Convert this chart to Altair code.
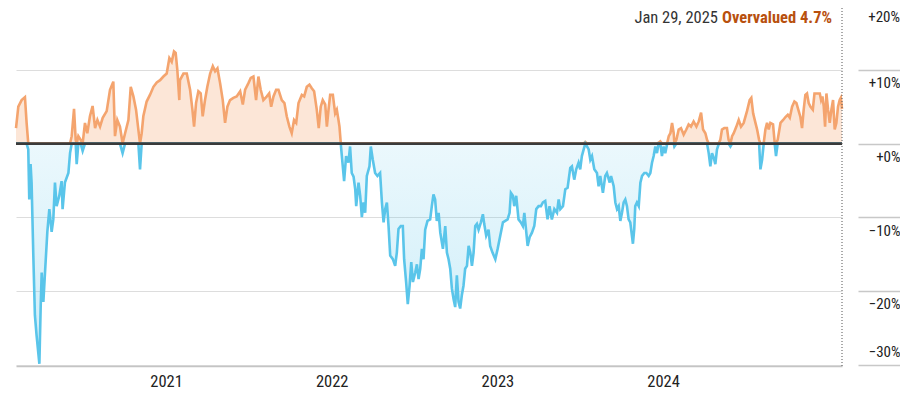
import altair as alt
import pandas as pd

# ---- data (decimal year, % over/under fair value) ----
years = [
    2020.095, 2020.109, 2020.129, 2020.149, 2020.159, 2020.169, 2020.175, 2020.183, 2020.189, 2020.199,
    2020.209, 2020.219, 2020.236, 2020.244, 2020.250, 2020.260, 2020.270, 2020.284, 2020.296, 2020.310,
    2020.320, 2020.330, 2020.340, 2020.356, 2020.370, 2020.376, 2020.390, 2020.411, 2020.421, 2020.431,
    2020.445, 2020.455, 2020.461, 2020.471, 2020.485, 2020.497, 2020.511, 2020.525, 2020.541, 2020.557,
    2020.572, 2020.586, 2020.602, 2020.618, 2020.642, 2020.662, 2020.682, 2020.692, 2020.706, 2020.722,
    2020.738, 2020.753, 2020.773, 2020.787, 2020.803, 2020.819, 2020.833, 2020.843, 2020.853, 2020.863,
    2020.883, 2020.903, 2020.924, 2020.944, 2020.964, 2020.984, 2021.004, 2021.020, 2021.034, 2021.048,
    2021.058, 2021.068, 2021.080,
    2021.084, 2021.105, 2021.125, 2021.145, 2021.159, 2021.169, 2021.181, 2021.195, 2021.209, 2021.221,
    2021.235, 2021.249, 2021.266, 2021.282, 2021.296, 2021.310, 2021.326, 2021.342, 2021.356, 2021.370,
    2021.386, 2021.406, 2021.426, 2021.447, 2021.463, 2021.477, 2021.497, 2021.511, 2021.527, 2021.543,
    2021.557, 2021.571, 2021.587, 2021.608, 2021.622, 2021.634, 2021.648, 2021.664, 2021.678, 2021.698,
    2021.714, 2021.728, 2021.744, 2021.758, 2021.772, 2021.785, 2021.799, 2021.819, 2021.833, 2021.849,
    2021.865, 2021.879, 2021.893, 2021.909, 2021.921, 2021.933, 2021.945, 2021.960, 2021.970, 2021.980,
    2021.990, 2022.006, 2022.020, 2022.030, 2022.040,
    2022.046, 2022.054, 2022.066, 2022.074, 2022.086, 2022.100, 2022.110, 2022.120, 2022.131, 2022.141,
    2022.147, 2022.161, 2022.171, 2022.181, 2022.191, 2022.201, 2022.211, 2022.227, 2022.235, 2022.247,
    2022.261, 2022.275, 2022.291, 2022.302, 2022.312, 2022.322, 2022.332, 2022.342, 2022.352, 2022.368,
    2022.382, 2022.392, 2022.402, 2022.416, 2022.428, 2022.436, 2022.448, 2022.458, 2022.469, 2022.479,
    2022.489, 2022.503, 2022.513, 2022.523, 2022.533, 2022.543, 2022.553, 2022.563, 2022.577, 2022.593,
    2022.603, 2022.613, 2022.623, 2022.633, 2022.644, 2022.654, 2022.670, 2022.684, 2022.694, 2022.704,
    2022.714, 2022.724, 2022.734, 2022.744, 2022.754, 2022.764, 2022.774, 2022.784, 2022.794, 2022.804,
    2022.815, 2022.825, 2022.835, 2022.845, 2022.855, 2022.865, 2022.875, 2022.885, 2022.899, 2022.911,
    2022.919, 2022.931, 2022.945, 2022.955, 2022.969, 2022.986, 2023.000, 2023.016,
    2023.032, 2023.046, 2023.060, 2023.072, 2023.080, 2023.092, 2023.100, 2023.112, 2023.126, 2023.140,
    2023.152, 2023.161, 2023.173, 2023.181, 2023.193, 2023.207, 2023.221, 2023.233, 2023.247, 2023.261,
    2023.273, 2023.287, 2023.301, 2023.313, 2023.327, 2023.342, 2023.358, 2023.368, 2023.378, 2023.394,
    2023.408, 2023.422, 2023.438, 2023.448, 2023.462, 2023.474, 2023.488, 2023.498, 2023.508, 2023.519,
    2023.529, 2023.539, 2023.549, 2023.559, 2023.569, 2023.583, 2023.599, 2023.609, 2023.619, 2023.635,
    2023.649, 2023.659, 2023.676, 2023.684, 2023.700, 2023.710, 2023.720, 2023.730, 2023.740, 2023.750,
    2023.760, 2023.770, 2023.780, 2023.790, 2023.800, 2023.816, 2023.824, 2023.830, 2023.840, 2023.851,
    2023.861, 2023.871, 2023.885, 2023.897, 2023.911, 2023.921, 2023.931, 2023.941, 2023.951, 2023.961,
    2023.971, 2023.981,
    2023.991, 2024.001, 2024.011, 2024.022, 2024.032, 2024.042, 2024.052, 2024.062, 2024.066, 2024.078,
    2024.092, 2024.106, 2024.122, 2024.138, 2024.152, 2024.166, 2024.182, 2024.199, 2024.213, 2024.227,
    2024.239, 2024.253, 2024.263, 2024.273, 2024.283, 2024.293, 2024.303, 2024.313, 2024.323, 2024.333,
    2024.343, 2024.353, 2024.367, 2024.383, 2024.393, 2024.404, 2024.414, 2024.424, 2024.440, 2024.454,
    2024.468, 2024.484, 2024.504, 2024.520, 2024.530, 2024.541, 2024.555, 2024.565, 2024.577, 2024.585,
    2024.595, 2024.605, 2024.615, 2024.625, 2024.635, 2024.645, 2024.661, 2024.671, 2024.679, 2024.689,
    2024.706, 2024.722, 2024.736, 2024.750, 2024.762, 2024.776, 2024.790, 2024.802, 2024.816, 2024.826,
    2024.836, 2024.846, 2024.856, 2024.866, 2024.876, 2024.887, 2024.901, 2024.911, 2024.927, 2024.943,
    2024.951, 2024.959, 2024.967, 2024.975, 2024.983, 2024.993, 2025.003, 2025.013, 2025.023, 2025.033,
    2025.043, 2025.053, 2025.063, 2025.070, 2025.077,
]

values = [
    2.1, 5.0, 5.9, 6.3, 2.8, -0.8, -7.6, -2.8, -5.3, -14.8,
    -23.3, -26.0, -29.9, -22.0, -17.5, -21.5, -17.5, -12.0, -8.9, -12.0,
    -10.3, -5.3, -8.5, -7.1, -5.1, -8.9, -5.3, -4.0, -1.3, 1.0,
    4.7, 0.5, -2.8, 1.0, 0.5, -1.0, 2.8, 1.4, 3.7, 5.1,
    2.1, 3.2, 2.3, 3.5, 4.4, 7.3, 8.4, 1.0, 3.2, 2.3,
    -1.3, 1.4, 3.2, 7.7, 6.4, 4.6, 1.9, -3.5, 1.4, 3.7,
    5.7, 6.6, 7.7, 8.3, 8.6, 9.1, 9.5, 11.6, 11.1, 12.5,
    12.3, 10.0, 5.9,
    8.6, 9.5, 9.5, 7.3, 4.6, 2.3, 5.5, 7.1, 6.8, 3.7,
    5.9, 7.7, 9.5, 10.5, 9.8, 10.2, 8.2, 5.9, 2.8, 5.0,
    5.9, 6.2, 6.4, 7.1, 5.3, 7.3, 8.2, 8.9, 9.1, 5.9,
    9.1, 7.3, 5.9, 6.4, 6.8, 5.0, 6.4, 7.3, 7.3, 5.9,
    5.5, 3.7, 2.3, 1.4, 3.2, 2.8, 5.5, 6.6, 6.4, 7.7,
    8.0, 7.5, 7.1, 4.6, 2.1, 5.0, 5.9, 5.3, 2.3, 4.6,
    6.6, 6.6, 4.1, 4.6, 3.2,
    2.3, -0.1, -3.1, -5.1, -1.7, -2.6, -0.4, -4.0, -4.5, -6.2,
    -8.5, -5.3, -7.1, -10.0, -8.0, -9.4, -4.4, -3.1, -0.4, -2.2,
    -4.0, -4.4, -4.0, -8.0, -10.7, -8.9, -8.0, -11.2, -15.2, -15.7,
    -16.6, -14.8, -11.6, -11.2, -11.2, -15.7, -18.8, -21.8, -19.3, -16.1,
    -18.8, -17.5, -16.4, -18.4, -17.0, -14.3, -15.7, -11.7, -10.5, -10.3,
    -8.5, -6.9, -7.6, -10.5, -9.4, -12.1, -14.3, -11.2, -14.8, -15.7,
    -17.0, -19.7, -21.1, -22.2, -17.9, -21.5, -22.4, -20.6, -19.3, -17.0,
    -16.6, -13.9, -14.8, -16.6, -14.8, -11.2, -10.9, -11.7, -10.7, -9.6,
    -10.9, -12.5, -11.7, -13.9, -14.8, -15.7, -14.3, -12.5,
    -10.7, -10.5, -10.3, -9.4, -6.7, -7.1, -8.5, -7.1, -10.3, -10.7,
    -11.2, -9.4, -12.1, -13.9, -12.7, -12.1, -11.2, -8.9, -8.5, -8.5,
    -8.0, -7.8, -10.3, -8.5, -10.3, -8.9, -9.4, -7.6, -8.9, -8.5,
    -6.2, -6.0, -3.3, -3.1, -4.9, -3.5, -2.6, -3.5, -1.7, -0.8,
    0.2, -0.4, -0.8, -2.2, -1.7, -3.5, -4.0, -5.8, -4.4, -6.7,
    -4.4, -4.0, -5.3, -4.4, -5.8, -8.0, -8.9, -8.5, -10.5, -9.4,
    -8.0, -7.6, -8.5, -10.3, -10.7, -13.6, -11.6, -8.5, -8.0, -8.5,
    -5.3, -4.4, -4.0, -4.0, -4.4, -4.0, -2.6, -1.7, -0.4, -1.3,
    0.1, 0.3,
    -1.7, -0.4, -1.3, -0.1, 1.0, 1.4, 2.8, 1.4, -0.4, 0.5,
    1.9, 2.1, 1.2, 1.9, 2.6, 2.3, 3.0, 2.3, 3.0, 4.2,
    1.9, 1.4, 0.5, -1.3, -3.1, -1.3, -1.9, -2.8, -0.8, -0.1,
    0.5, 1.9, 2.1, 2.1, 0.5, -0.4, 1.0, 1.4, 2.3, 3.2,
    2.3, 2.8, 4.4, 5.9, 6.2, 4.1, 2.8, 1.9, 0.5, -3.5,
    -2.2, 0.1, 1.9, 2.8, 1.9, 2.8, 2.6, 0.1, -1.7, 0.5,
    2.8, 3.2, 3.6, 3.9, 3.5, 5.0, 5.7, 5.5, 4.4, 3.6,
    2.1, 4.6, 6.6, 6.8, 5.5, 5.0, 4.6, 6.8, 6.8, 6.8,
    5.9, 6.4, 5.0, 2.3, 6.8, 4.6, 2.8, 4.6, 5.9, 1.9,
    2.8, 5.0, 5.9, 6.2, 4.7,
]

as_of = "2025-01-29"
y_ticks = [-30, -20, -10, 0, 10]
top_tick = 20
year_ticks = [2021, 2022, 2023, 2024]

# ---- build table ----
base = pd.Timestamp("2021-01-01")
dates = [base + pd.Timedelta(days=(y - 2021) * 365.25) for y in years]
df = pd.DataFrame({
    "date": [d.strftime("%Y-%m-%dT%H:%M:%S") for d in dates],
    "v": values,
})

last = values[-1]
status = "Overvalued" if last >= 0 else "Undervalued"
hdr = pd.DataFrame({
    "d": [pd.Timestamp(as_of).strftime("%b %d, %Y").replace(" 0", " ")],
    "s": [f"{status} {abs(last):.1f}%"],
})

FONT = "Liberation Sans Narrow, Roboto Condensed, DejaVu Sans Condensed, sans-serif"
W, H = 826, 358
TICK = 42
ORANGE = "#f4a46e"
BLUE = "#5ac5ea"

xenc = alt.X(
    "date:T",
    scale=alt.Scale(nice=False),
    axis=alt.Axis(
        values=[alt.DateTime(year=y, month=1, date=1) for y in year_ticks],
        format="%Y", title=None, grid=False, ticks=False,
        domainColor="#c4c4c4", domainWidth=1.5,
        labelFont=FONT, labelFontSize=16.5, labelColor="#222",
        labelPadding=7, labelFlush=False,
    ),
)
yscale = alt.Scale(domain=[-30.2, 18.4], nice=False, zero=False)
yaxis = alt.Axis(
    orient="right", values=y_ticks, title=None,
    grid=True, gridColor="#dddddd", gridWidth=1,
    domain=False, tickSize=TICK, tickColor="#c8c8c8", tickWidth=1.5, offset=16,
    labelAlign="right", labelPadding=0, labelFlush=False,
    labelBaseline=alt.condition("datum.value == -30", alt.value("bottom"), alt.value("top")),
    labelOffset=alt.condition("datum.value == -30", alt.value(-5), alt.value(6)),
    labelExpr="(datum.value < 0 ? '\u2212' : '+') + abs(datum.value) + '%'",
    labelFont=FONT, labelFontSize=15, labelColor="#222",
)

chart_base = alt.Chart(df).transform_calculate(
    pos="max(datum.v, 0)", neg="min(datum.v, 0)"
)

area_pos = chart_base.mark_area(color="rgba(245,166,111,0.28)").encode(
    x=xenc, y=alt.Y("pos:Q", scale=yscale, axis=yaxis), y2=alt.datum(0)
)
area_neg = chart_base.mark_area(
    color=alt.Gradient(
        gradient="linear",
        stops=[alt.GradientStop(color="rgba(90,197,234,0.12)", offset=0),
               alt.GradientStop(color="rgba(90,197,234,0.30)", offset=1)],
        x1=0, x2=0, y1=0, y2=1,
    )
).encode(x="date:T", y=alt.Y("neg:Q", scale=yscale), y2=alt.datum(0))

line_pos = chart_base.mark_line(color=ORANGE, strokeWidth=2.6).encode(
    x="date:T", y=alt.Y("pos:Q", scale=yscale)
)
line_neg = chart_base.mark_line(color=BLUE, strokeWidth=2.6).encode(
    x="date:T", y=alt.Y("neg:Q", scale=yscale)
)

zero = alt.Chart(pd.DataFrame({"z": [0]})).mark_rule(color="#3a3a3a", strokeWidth=2.8).encode(
    y=alt.Y("z:Q", scale=yscale)
)

edge = alt.Chart(pd.DataFrame({"z": [0]})).mark_rule(
    color="#555", strokeDash=[1, 2], strokeWidth=1
).encode(x=alt.value(W), y=alt.value(0), y2=alt.value(H))

top_lbl = alt.Chart(pd.DataFrame({"t": [f"+{top_tick}%"]})).mark_text(
    align="right", baseline="top", font=FONT, fontSize=15, color="#222"
).encode(x=alt.value(W + 16 + TICK), y=alt.value(2), text="t:N")

hdr_status = alt.Chart(hdr).mark_text(
    align="right", baseline="top", font=FONT, fontSize=16.5, fontWeight="bold", color="#b8500e"
).encode(x=alt.value(816), y=alt.value(2), text="s:N")
hdr_date = alt.Chart(hdr).mark_text(
    align="right", baseline="top", font=FONT, fontSize=16.5, color="#333"
).encode(x=alt.value(702), y=alt.value(2), text="d:N")

chart = alt.layer(
    area_pos, area_neg, line_pos, line_neg, zero, edge, top_lbl, hdr_status, hdr_date
).properties(
    width=W, height=H,
    autosize=alt.AutoSizeParams(type="none"),
    padding={"left": 8, "top": 0, "right": 16 + TICK, "bottom": 24},
).configure_view(stroke=None)

chart.save("out.html", embed_options={"renderer": "svg", "actions": False})
